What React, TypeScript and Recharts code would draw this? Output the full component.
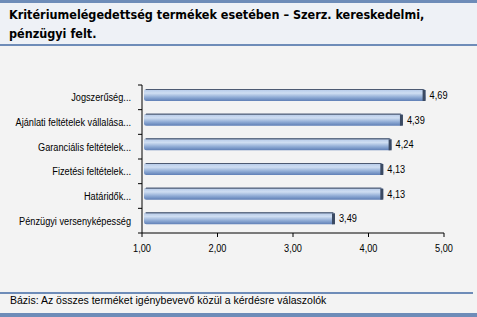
import React from 'react';
import { BarChart, Bar, XAxis, YAxis, LabelList } from 'recharts';

const categories = [
  'Jogszerűség...',
  'Ajánlati feltételek vállalása...',
  'Garanciális feltételek...',
  'Fizetési feltételek...',
  'Határidők...',
  'Pénzügyi versenyképesség',
];
const values = [4.69, 4.39, 4.24, 4.13, 4.13, 3.49];
const xTicks = [1, 2, 3, 4, 5];

const TITLE = 'Kritériumelégedettség termékek esetében – Szerz. kereskedelmi, pénzügyi felt.';
const FOOTNOTE = 'Bázis: Az összes terméket igénybevevő közül a kérdésre válaszolók';

const data = categories.map((name, i) => ({ name, value: values[i] }));

const fmt = (v: number) => v.toFixed(2).replace('.', ',');
const font = '"Liberation Sans", Arial, sans-serif';
const SQUEEZE = 0.8;
const DEPTH = 5;
const LIFT = 2;

const PLOT_H = 148;
const band = PLOT_H / categories.length;

// narrow text: liberation sans squeezed horizontally
function NarrowText({ x, y, anchor, children }: any) {
  return (
    <text
      transform={`translate(${x},${y}) scale(${SQUEEZE},1)`}
      textAnchor={anchor}
      fontSize={11.5}
      fill="#000"
      fontFamily={font}
    >
      {children}
    </text>
  );
}

function CategoryTick(props: any) {
  const { x, y, payload, index } = props;
  const axisX = 142;
  return (
    <g>
      <line x1={axisX - 4} x2={axisX} y1={y - band / 2} y2={y - band / 2} stroke="#000" />
      {index === categories.length - 1 && (
        <line x1={axisX - 4} x2={axisX} y1={y + band / 2} y2={y + band / 2} stroke="#000" />
      )}
      <NarrowText x={x - 3} y={y + 4} anchor="end">
        {payload.value}
      </NarrowText>
    </g>
  );
}

function ValueTick(props: any) {
  const { x, y, payload } = props;
  return (
    <NarrowText x={x} y={y + 13} anchor="middle">
      {fmt(payload.value)}
    </NarrowText>
  );
}

function ValueLabel(props: any) {
  const { x, y, width, height, value } = props;
  return (
    <NarrowText x={x + width + DEPTH + 4} y={y + height / 2 + 2} anchor="start">
      {fmt(Number(value))}
    </NarrowText>
  );
}

function Bar3D(props: any) {
  const { x, y, width, height } = props;
  if (!width || width <= 0) return null;
  const w = width + DEPTH;
  const top = y - LIFT;
  return (
    <g>
      <rect x={x + 2} y={top} width={w - 2} height={height} fill="url(#barGrad)" rx={2.5} />
      <rect x={x + w - 3} y={top + 1} width={3} height={height - 1} fill="#3b4a63" />
      <line x1={x + 4} x2={x + w - 2} y1={top + 0.5} y2={top + 0.5} stroke="#4d5a72" />
    </g>
  );
}

export default function App() {
  return (
    <div
      style={{
        position: 'absolute',
        left: 0,
        top: 0,
        width: 477,
        height: 317,
        background: '#f3f3f3',
      }}
    >
      <div style={{ position: 'absolute', left: 0, top: 0, width: 477, height: 3, background: '#6e8cb8' }} />
      <div
        style={{
          position: 'absolute',
          left: 0,
          top: 3,
          width: 477,
          height: 43,
          background: '#eef1f6',
          borderBottom: '2px solid #6e8cb8',
          boxSizing: 'border-box',
        }}
      >
        <div
          style={{
            position: 'absolute',
            left: 9,
            top: 2,
            width: 460,
            fontSize: 12.5,
            fontWeight: 'bold',
            lineHeight: '19px',
            color: '#000',
            fontFamily: '"DejaVu Sans Condensed", "DejaVu Sans", sans-serif',
          }}
        >
          {TITLE}
        </div>
      </div>

      <div style={{ position: 'absolute', left: 0, top: 48 }}>
        <BarChart
          width={477}
          height={242}
          data={data}
          layout="vertical"
          margin={{ top: 37, right: 33, bottom: 27, left: 0 }}
          barCategoryGap={0}
        >
          <defs>
            <linearGradient id="barGrad" x1="0" y1="0" x2="0" y2="1">
              <stop offset="0%" stopColor="#6a7b97" />
              <stop offset="12%" stopColor="#bccfeb" />
              <stop offset="35%" stopColor="#cfdef2" />
              <stop offset="70%" stopColor="#8eaad4" />
              <stop offset="100%" stopColor="#5f7fb6" />
            </linearGradient>
          </defs>
          <XAxis
            type="number"
            domain={[1, 5]}
            ticks={xTicks}
            allowDataOverflow
            stroke="#000"
            tickSize={4}
            tick={<ValueTick />}
            height={30}
          />
          <YAxis
            type="category"
            dataKey="name"
            width={142}
            stroke="#000"
            tickLine={false}
            tick={<CategoryTick />}
            interval={0}
          />
          <Bar dataKey="value" barSize={12} shape={<Bar3D />} isAnimationActive={false}>
            <LabelList dataKey="value" content={<ValueLabel />} />
          </Bar>
        </BarChart>
      </div>

      <div style={{ position: 'absolute', left: 0, top: 292, width: 473, height: 2, background: '#6e8cb8' }} />
      <div
        style={{
          position: 'absolute',
          left: 10,
          top: 292,
          fontSize: 10.5,
          lineHeight: '16px',
          color: '#000',
          fontFamily: font,
        }}
      >
        {FOOTNOTE}
      </div>
      <div style={{ position: 'absolute', left: 0, top: 313, width: 477, height: 4, background: '#6e8cb8' }} />
    </div>
  );
}
